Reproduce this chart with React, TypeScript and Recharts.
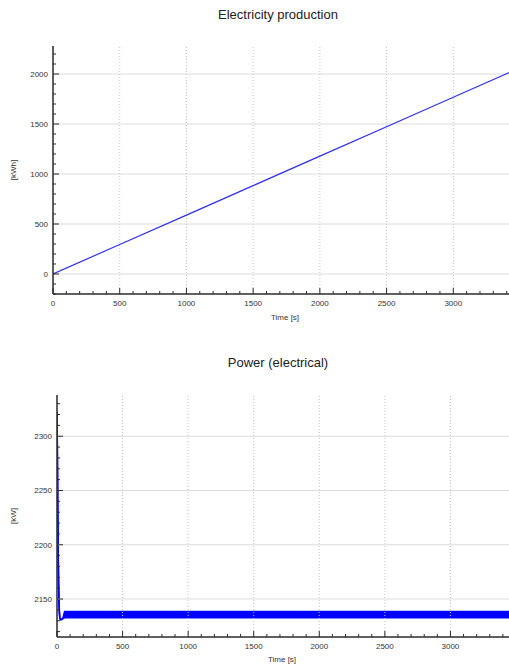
import React from 'react';
import {
  ComposedChart,
  Line,
  Area,
  XAxis,
  YAxis,
  ReferenceLine,
} from 'recharts';

// --- Electricity production (energy over time) ---
const energyTime = [0, 500, 1000, 1500, 2000, 2500, 3000, 3500];
const energyKWh = [0, 295, 589, 884, 1179, 1473, 1768, 2063];

// --- Power (electrical): start transient, then a tight oscillation band ---
const powerTime = [0, 3, 6, 9, 12, 15, 18, 22, 30, 45, 58, 100, 500, 1000, 1500, 2000, 2500, 3000, 3500];
const powerLow = [2322, 2280, 2230, 2190, 2165, 2148, 2138, 2132, 2131, 2132, 2132.8, 2132.8, 2132.8, 2132.8, 2132.8, 2132.8, 2132.8, 2132.8, 2132.8];
const powerHigh = [2322, 2280, 2230, 2190, 2165, 2148, 2138, 2132, 2131, 2132, 2138.5, 2138.5, 2138.5, 2138.5, 2138.5, 2138.5, 2138.5, 2138.5, 2138.5];

// tick labels
const timeMajor = [0, 500, 1000, 1500, 2000, 2500, 3000];
const energyMajor = [0, 500, 1000, 1500, 2000];
const powerMajor = [2150, 2200, 2250, 2300];

const steps = (from: number, to: number, step: number) =>
  Array.from({ length: Math.floor((to - from) / step) + 1 }, (_, i) => from + i * step);

const timeMinor = steps(0, 3500, 100);
const topMinor = steps(140, 3500, 140);
const energyMinor = steps(-200, 2200, 100);
const powerMinor = steps(2120, 2330, 10);

const energyData = energyTime.map((t, i) => ({ t, e: energyKWh[i] }));
const powerData = powerTime.map((t, i) => ({ t, band: [powerLow[i], powerHigh[i]] }));

const AXIS = '#2b2b2b';
const FONT = '"Liberation Sans", Arial, Helvetica, sans-serif';

const isMajor = (v: number, every: number) => Math.abs(v % every) < 1e-6;

const bottomTick = (every: number, labels: number[]) => (p: any) => {
  const { x, y, payload } = p;
  const v = payload.value;
  const major = isMajor(v, every);
  return (
    <g>
      <line x1={x} y1={y} x2={x} y2={y - (major ? 6 : 3)} stroke={AXIS} strokeWidth={1} />
      {labels.includes(v) && (
        <text x={x} y={y + 12} textAnchor="middle" fontSize={8} fontFamily={FONT} fill="#333">
          {v}
        </text>
      )}
    </g>
  );
};

const topTick = (every: number) => (p: any) => {
  const { x, y, payload } = p;
  const major = isMajor(payload.value, every);
  return <line x1={x} y1={y} x2={x} y2={y + (major ? 6 : 3)} stroke={AXIS} strokeWidth={1} />;
};

const leftTick = (every: number, labels: number[]) => (p: any) => {
  const { x, y, payload } = p;
  const v = payload.value;
  const major = isMajor(v, every);
  return (
    <g>
      <line x1={x} y1={y} x2={x + (major ? 6 : 3)} y2={y} stroke={AXIS} strokeWidth={1} />
      {labels.includes(v) && (
        <text x={x - 5} y={y + 3} textAnchor="end" fontSize={8} fontFamily={FONT} fill="#333">
          {v}
        </text>
      )}
    </g>
  );
};

const axisLine = { stroke: AXIS, strokeWidth: 1.5 };

const abs = (left: number, top: number): React.CSSProperties => ({
  position: 'absolute',
  left,
  top,
});

function Title({ text, top }: { text: string; top: number }) {
  return (
    <div
      style={{
        ...abs(0, top),
        width: 556,
        textAlign: 'center',
        fontSize: 13,
        fontFamily: FONT,
        color: '#222',
      }}
    >
      {text}
    </div>
  );
}

function SmallLabel({ text, cx, cy, rotate }: { text: string; cx: number; cy: number; rotate?: boolean }) {
  return (
    <div
      style={{
        position: 'absolute',
        left: cx - 40,
        top: cy - 6,
        width: 80,
        height: 12,
        lineHeight: '12px',
        textAlign: 'center',
        fontSize: 8,
        fontFamily: FONT,
        color: '#333',
        transform: rotate ? 'rotate(-90deg)' : undefined,
      }}
    >
      {text}
    </div>
  );
}

export default function App() {
  return (
    <div
      style={{
        position: 'absolute',
        left: 0,
        top: 0,
        width: 509,
        height: 666,
        overflow: 'hidden',
        background: '#fff',
      }}
    >
      <Title text="Electricity production" top={7} />
      <div style={abs(0, 0)}>
        <ComposedChart
          width={540}
          height={330}
          data={energyData}
          margin={{ top: 46, right: 20, bottom: 6, left: 0 }}
        >
          {energyMajor.map((v) => (
            <ReferenceLine key={'h' + v} y={v} stroke="#dcdcdc" strokeWidth={1} />
          ))}
          {timeMajor.map((v) => (
            <ReferenceLine key={'v' + v} x={v} stroke="#c4c4c4" strokeDasharray="1 2" strokeWidth={1} />
          ))}
          <XAxis
            dataKey="t"
            type="number"
            domain={[0, 3500]}
            allowDataOverflow
            ticks={timeMinor}
            interval={0}
            tickSize={0}
            tickMargin={0}
            tickLine={false}
            tick={bottomTick(500, timeMajor)}
            axisLine={axisLine}
            height={30}
          />
          <XAxis
            xAxisId="top"
            orientation="top"
            dataKey="t"
            type="number"
            domain={[0, 3500]}
            allowDataOverflow
            ticks={topMinor}
            interval={0}
            tickSize={0}
            tickMargin={0}
            tickLine={false}
            tick={topTick(700)}
            axisLine={axisLine}
            height={0}
          />
          <YAxis
            type="number"
            domain={[-200, 2280]}
            allowDataOverflow
            ticks={energyMinor}
            interval={0}
            tickSize={0}
            tickMargin={0}
            tickLine={false}
            tick={leftTick(500, energyMajor)}
            axisLine={axisLine}
            width={53}
          />
          <Line
            type="linear"
            dataKey="e"
            stroke="#3030e8"
            strokeWidth={1.2}
            dot={false}
            isAnimationActive={false}
          />
        </ComposedChart>
      </div>
      <SmallLabel text="[kWh]" cx={14} cy={170} rotate />
      <SmallLabel text="Time [s]" cx={285} cy={318} />

      <Title text="Power (electrical)" top={355} />
      <div style={abs(0, 340)}>
        <ComposedChart
          width={540}
          height={330}
          data={powerData}
          margin={{ top: 55, right: 24, bottom: 6, left: 0 }}
        >
          {powerMajor.map((v) => (
            <ReferenceLine key={'h' + v} y={v} stroke="#dcdcdc" strokeWidth={1} />
          ))}
          {timeMajor.map((v) => (
            <ReferenceLine key={'v' + v} x={v} stroke="#c4c4c4" strokeDasharray="1 2" strokeWidth={1} />
          ))}
          <XAxis
            dataKey="t"
            type="number"
            domain={[0, 3500]}
            allowDataOverflow
            ticks={timeMinor}
            interval={0}
            tickSize={0}
            tickMargin={0}
            tickLine={false}
            tick={bottomTick(500, timeMajor)}
            axisLine={axisLine}
            height={27}
          />
          <XAxis
            xAxisId="top"
            orientation="top"
            dataKey="t"
            type="number"
            domain={[0, 3500]}
            allowDataOverflow
            ticks={topMinor}
            interval={0}
            tickSize={0}
            tickMargin={0}
            tickLine={false}
            tick={topTick(700)}
            axisLine={axisLine}
            height={0}
          />
          <YAxis
            type="number"
            domain={[2115, 2338]}
            allowDataOverflow
            ticks={powerMinor}
            interval={0}
            tickSize={0}
            tickMargin={0}
            tickLine={false}
            tick={leftTick(50, powerMajor)}
            axisLine={axisLine}
            width={57}
          />
          <Area
            type="linear"
            dataKey="band"
            stroke="#0000ff"
            strokeWidth={1.6}
            fill="#0000ff"
            fillOpacity={1}
            dot={false}
            activeDot={false}
            isAnimationActive={false}
          />
        </ComposedChart>
      </div>
      <SmallLabel text="[kW]" cx={14} cy={516} rotate />
      <SmallLabel text="Time [s]" cx={282} cy={660} />
    </div>
  );
}
